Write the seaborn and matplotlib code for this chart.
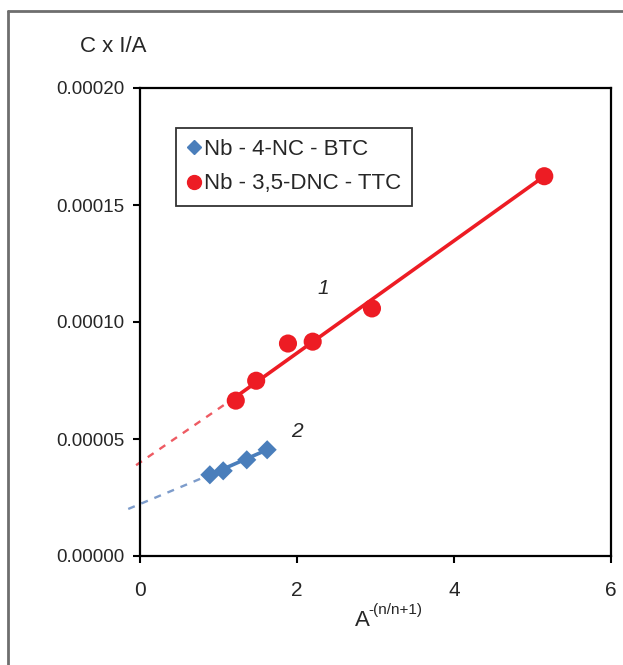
import matplotlib
matplotlib.use("Agg")
import numpy as np
import matplotlib.pyplot as plt
from matplotlib.lines import Line2D
import seaborn as sns

# series 1: Nb - 3,5-DNC - TTC (red circles)
x_red = [1.22, 1.48, 1.885, 2.20, 2.955, 5.15]
y_red = [0.0000664, 0.0000749, 0.0000908, 0.0000916, 0.0001058, 0.0001623]
# series 2: Nb - 4-NC - BTC (blue diamonds)
x_blue = [0.89, 1.06, 1.36, 1.62]
y_blue = [0.0000347, 0.0000364, 0.0000411, 0.0000454]

# trend lines (solid part + dashed extrapolation)
red_fit_x = [1.22, 5.15]
red_fit_y = [0.0000680, 0.0001623]
red_dash_x = [-0.05, 1.22]
red_dash_y = [0.0000388, 0.0000680]
blue_fit_x = [0.89, 1.62]
blue_fit_y = [0.0000347, 0.0000454]
blue_dash_x = [-0.15, 0.89]
blue_dash_y = [0.0000201, 0.0000347]

labels = ["Nb - 4-NC - BTC", "Nb - 3,5-DNC - TTC"]
yticks = [0, 0.00005, 0.00010, 0.00015, 0.00020]
xticks = [0, 2, 4, 6]

sns.set_style("white")
plt.rcParams['font.family'] = ['Liberation Sans', 'DejaVu Sans']

red = "#ED1C24"
blue = "#4A7EBB"

fig = plt.figure(figsize=(6.23, 6.65), dpi=100)
ax = fig.add_axes([140 / 623, 109 / 665, 471 / 623, 468 / 665])

# dashed extrapolations (drawn a little beyond the y axis)
ax.plot(red_dash_x, red_dash_y, ls=(0, (3, 3)), color="#EE5A62", lw=1.7, clip_on=False)
ax.plot(blue_dash_x, blue_dash_y, ls=(0, (3, 3)), color="#7D9CCB", lw=1.7, clip_on=False)
sns.lineplot(x=red_fit_x, y=red_fit_y, ax=ax, color=red, lw=2.6)
sns.lineplot(x=blue_fit_x, y=blue_fit_y, ax=ax, color=blue, lw=2.6)

sns.scatterplot(x=x_red, y=y_red, ax=ax, marker="o", s=170, color=red, edgecolor="none", zorder=5)
sns.scatterplot(x=x_blue, y=y_blue, ax=ax, marker="D", s=95, color=blue, edgecolor="none", zorder=5)

ax.set_xlim(0, 6)
ax.set_ylim(0, 0.0002)
ax.set_xticks(xticks)
ax.set_yticks(yticks)
ax.set_xticklabels([str(t) for t in xticks], fontsize=15)
ax.set_yticklabels(["%.5f" % t for t in yticks], fontsize=13.5)
ax.tick_params(axis="both", direction="out", length=5, width=1.5, color="black",
               bottom=True, left=True, pad=6)
ax.tick_params(axis="x", pad=13)
for sp in ax.spines.values():
    sp.set_color("black")
    sp.set_linewidth(1.6)

ax.text(2.33, 0.0001143, "1", style="italic", fontsize=15, ha="center", va="center")
ax.text(2.0, 0.0000531, "2", style="italic", fontsize=15, ha="center", va="center")

fig.text(80 / 623, 1 - 47 / 665, "C x I/A", fontsize=16, ha="left", va="center")
fig.text(355 / 623, 1 - 620 / 665, "A", fontsize=16, ha="left", va="center")
fig.text(368 / 623, 1 - 610 / 665, "-(n/n+1)", fontsize=11, ha="left", va="center")

handles = [Line2D([], [], marker="D", color=blue, ls="none", markersize=7),
           Line2D([], [], marker="o", color=red, ls="none", markersize=10)]
leg = ax.legend(handles, labels, loc="upper left", bbox_to_anchor=(176 / 623, 1 - 128 / 665),
                bbox_transform=fig.transFigure, fontsize=16, frameon=True, fancybox=False,
                handlelength=0.6, handletextpad=0.15, borderpad=0.5, labelspacing=0.6,
                borderaxespad=0)
leg.get_frame().set_edgecolor("black")
leg.get_frame().set_linewidth(1.3)

# outer frame (left and top edges only)
fig.add_artist(Line2D([8 / 623, 8 / 623], [0, 1 - 11 / 665], transform=fig.transFigure, color="#6e6e6e", lw=2))
fig.add_artist(Line2D([8 / 623, 1], [1 - 11 / 665, 1 - 11 / 665], transform=fig.transFigure, color="#6e6e6e", lw=2))

fig.savefig("out.png", dpi=100)
